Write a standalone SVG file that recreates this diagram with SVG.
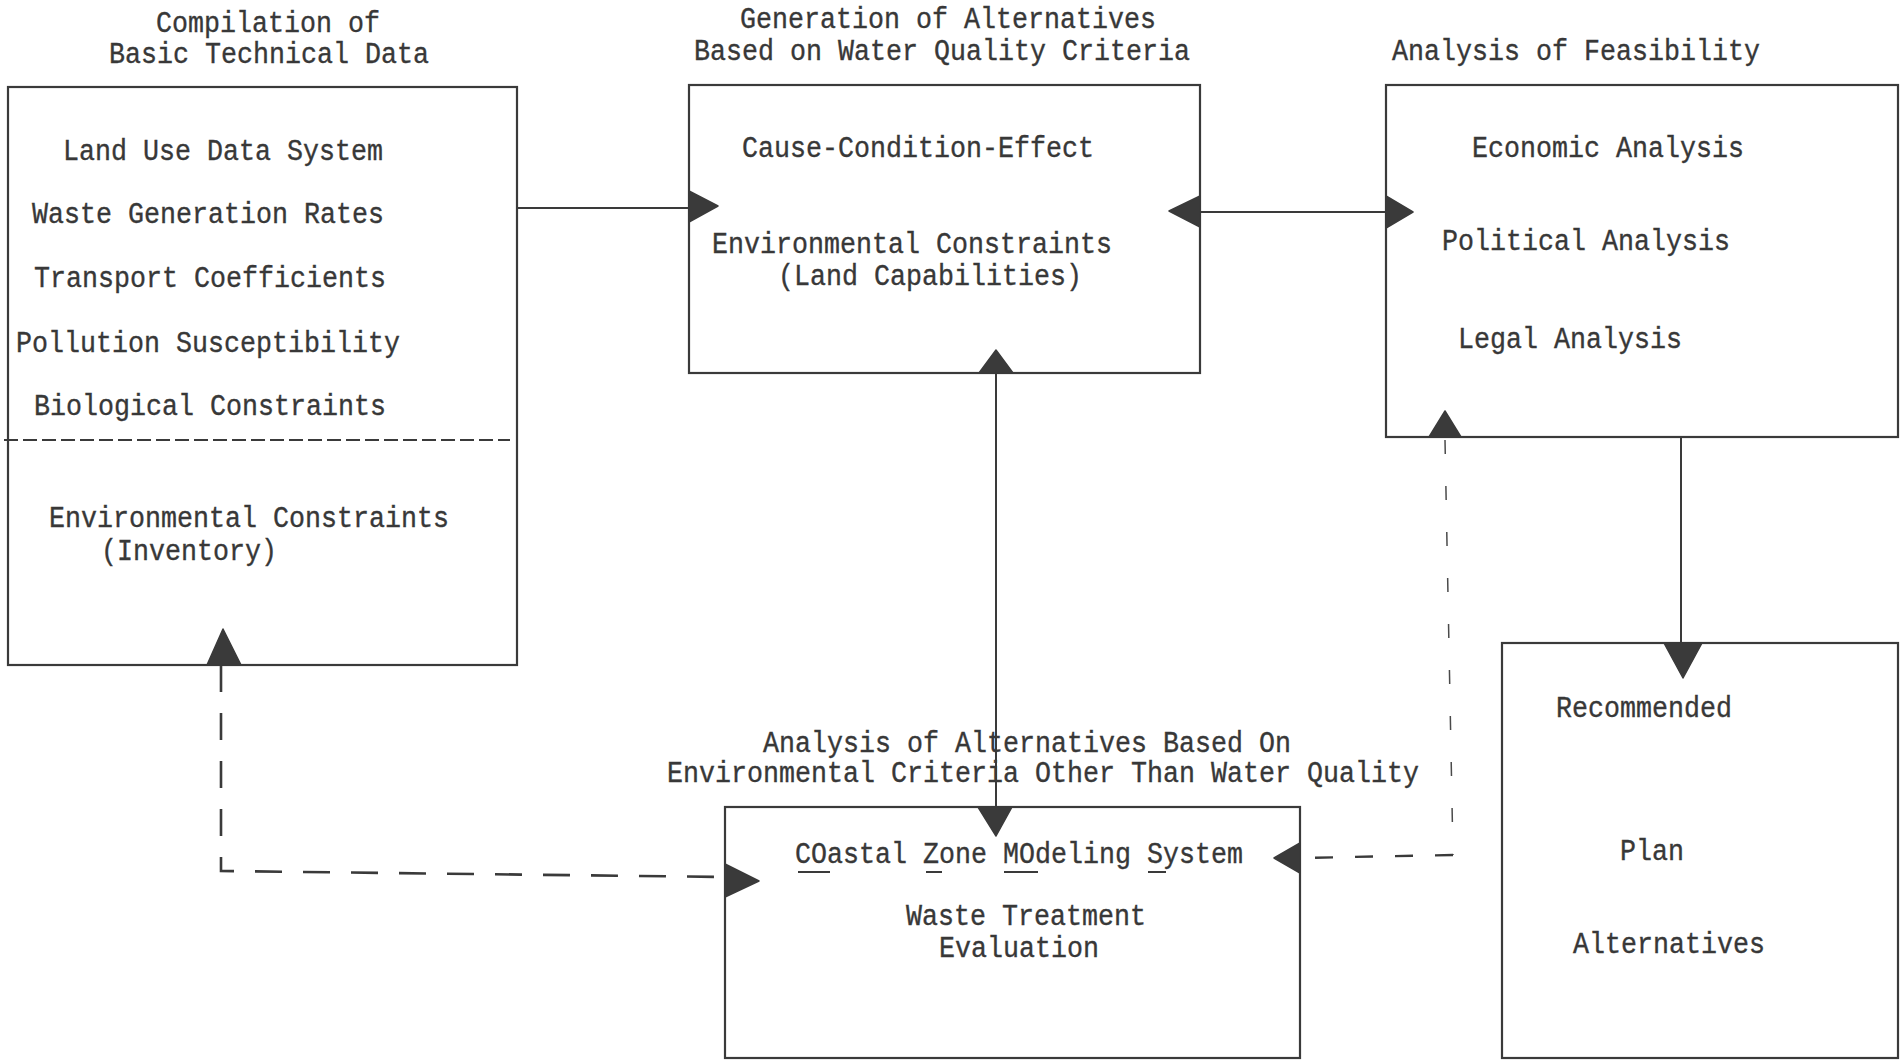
<svg xmlns="http://www.w3.org/2000/svg" width="1901" height="1061" viewBox="0 0 1901 1061">
<defs>
<style>
text{font-family:"Liberation Mono","Courier New",monospace;font-size:29px;fill:#383838;stroke:#383838;stroke-width:0.35}
.box{fill:none;stroke:#3a3a3a;stroke-width:2.2}
.sep{fill:none;stroke:#3a3a3a;stroke-width:2.2;stroke-dasharray:14 5}
.ln{fill:none;stroke:#3a3a3a;stroke-width:2}
.dash{fill:none;stroke:#3a3a3a;stroke-width:2.6;stroke-dasharray:27 21}
.dthin{fill:none;stroke:#4a4a4a;stroke-width:1.5;stroke-dasharray:14 32}
.dh{fill:none;stroke:#3a3a3a;stroke-width:2.4;stroke-dasharray:18 22}
.ah{fill:#3a3a3a;stroke:#3a3a3a;stroke-width:1.5;stroke-linejoin:round}
.ul{stroke:#3a3a3a;stroke-width:2}
</style>
</defs>
<rect width="1901" height="1061" fill="#ffffff"/>

<g id="node-basic-data">
<text x="156" y="32" textLength="224" lengthAdjust="spacingAndGlyphs">Compilation of</text>
<text x="109" y="63" textLength="320" lengthAdjust="spacingAndGlyphs">Basic Technical Data</text>
<rect class="box" x="8" y="87" width="509" height="578"/>
<line class="sep" x1="4" y1="440" x2="510" y2="440"/>
<text x="63" y="160" textLength="320" lengthAdjust="spacingAndGlyphs">Land Use Data System</text>
<text x="32" y="223" textLength="352" lengthAdjust="spacingAndGlyphs">Waste Generation Rates</text>
<text x="34" y="287" textLength="352" lengthAdjust="spacingAndGlyphs">Transport Coefficients</text>
<text x="16" y="352" textLength="384" lengthAdjust="spacingAndGlyphs">Pollution Susceptibility</text>
<text x="34" y="415" textLength="352" lengthAdjust="spacingAndGlyphs">Biological Constraints</text>
<text x="49" y="527" textLength="400" lengthAdjust="spacingAndGlyphs">Environmental Constraints</text>
<text x="101" y="560" textLength="176" lengthAdjust="spacingAndGlyphs">(Inventory)</text>
</g>

<g id="node-water-quality">
<text x="740" y="28" textLength="416" lengthAdjust="spacingAndGlyphs">Generation of Alternatives</text>
<text x="694" y="60" textLength="496" lengthAdjust="spacingAndGlyphs">Based on Water Quality Criteria</text>
<rect class="box" x="689" y="85" width="511" height="288"/>
<text x="742" y="157" textLength="352" lengthAdjust="spacingAndGlyphs">Cause-Condition-Effect</text>
<text x="712" y="253" textLength="400" lengthAdjust="spacingAndGlyphs">Environmental Constraints</text>
<text x="778" y="285" textLength="304" lengthAdjust="spacingAndGlyphs">(Land Capabilities)</text>
</g>

<g id="node-feasibility">
<text x="1392" y="60" textLength="368" lengthAdjust="spacingAndGlyphs">Analysis of Feasibility</text>
<rect class="box" x="1386" y="85" width="512" height="352"/>
<text x="1472" y="157" textLength="272" lengthAdjust="spacingAndGlyphs">Economic Analysis</text>
<text x="1442" y="250" textLength="288" lengthAdjust="spacingAndGlyphs">Political Analysis</text>
<text x="1458" y="348" textLength="224" lengthAdjust="spacingAndGlyphs">Legal Analysis</text>
</g>

<g id="node-recommended">
<rect class="box" x="1502" y="643" width="396" height="415"/>
<text x="1556" y="717" textLength="176" lengthAdjust="spacingAndGlyphs">Recommended</text>
<text x="1620" y="860" textLength="64" lengthAdjust="spacingAndGlyphs">Plan</text>
<text x="1573" y="953" textLength="192" lengthAdjust="spacingAndGlyphs">Alternatives</text>
</g>

<g id="node-other-criteria">
<text x="763" y="752" textLength="528" lengthAdjust="spacingAndGlyphs">Analysis of Alternatives Based On</text>
<text x="667" y="782" textLength="752" lengthAdjust="spacingAndGlyphs">Environmental Criteria Other Than Water Quality</text>
<rect class="box" x="725" y="807" width="575" height="251"/>
<text x="795" y="863" textLength="448" lengthAdjust="spacingAndGlyphs">COastal Zone MOdeling System</text>
<line class="ul" x1="798" y1="872" x2="830" y2="872"/>
<line class="ul" x1="926" y1="872" x2="942" y2="872"/>
<line class="ul" x1="1004" y1="872" x2="1038" y2="872"/>
<line class="ul" x1="1148" y1="872" x2="1166" y2="872"/>
<text x="906" y="925" textLength="240" lengthAdjust="spacingAndGlyphs">Waste Treatment</text>
<text x="939" y="957" textLength="160" lengthAdjust="spacingAndGlyphs">Evaluation</text>
</g>

<g id="connectors">
<line class="ln" x1="517" y1="208" x2="689" y2="208"/>
<polygon class="ah" points="689,191 718,206 689,222"/>

<line class="ln" x1="1200" y1="212" x2="1386" y2="212"/>
<polygon class="ah" points="1200,196 1169,211 1200,227"/>
<polygon class="ah" points="1386,196 1413,212 1386,228"/>

<line class="ln" x1="996" y1="373" x2="996" y2="807"/>
<polygon class="ah" points="979,373 996,350 1013,373"/>
<polygon class="ah" points="978,807 996,836 1012,807"/>

<line class="ln" x1="1681" y1="437" x2="1681" y2="643"/>
<polygon class="ah" points="1664,643 1683,678 1702,643"/>

<path class="dash" d="M221 665 L221 871 L725 877"/>
<polygon class="ah" points="207,665 223,629 241,665"/>
<polygon class="ah" points="725,864 759,881 725,897"/>

<path class="dthin" d="M1445 440 L1453 855"/>
<path class="dh" d="M1453 855 L1300 858"/>
<polygon class="ah" points="1429,437 1445,411 1461,437"/>
<polygon class="ah" points="1300,843 1274,858 1300,873"/>
</g>
</svg>
